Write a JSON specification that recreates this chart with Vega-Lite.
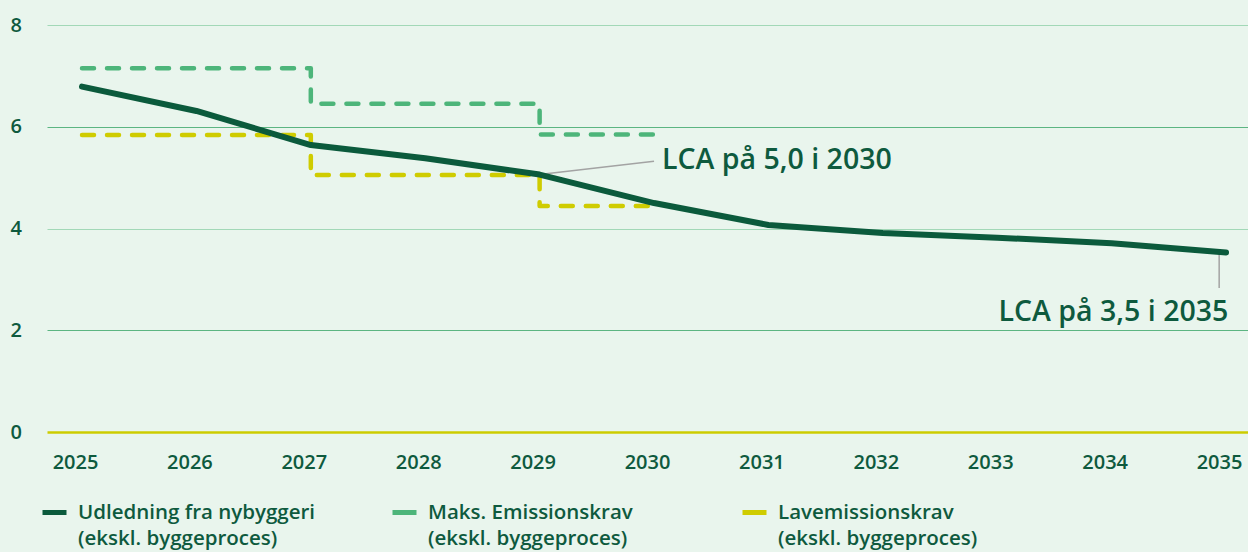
{
  "$schema": "https://vega.github.io/schema/vega-lite/v6.json",
  "autosize": {"type": "none"},
  "padding": {"left": 47, "top": 25, "right": 0, "bottom": 120},
  "width": 1201,
  "height": 407,
  "background": "#e9f5ed",
  "config": {"view": {"stroke": null}, "font": "Open Sans", "style": {"guide-label": {"lineHeight": 26}}},
  "datasets": {
    "udl": [
      {"year": 2025, "value": 6.79, "series": "Udledning fra nybyggeri|(ekskl. byggeproces)"},
      {"year": 2026, "value": 6.31, "series": "Udledning fra nybyggeri|(ekskl. byggeproces)"},
      {"year": 2027, "value": 5.64, "series": "Udledning fra nybyggeri|(ekskl. byggeproces)"},
      {"year": 2028, "value": 5.38, "series": "Udledning fra nybyggeri|(ekskl. byggeproces)"},
      {"year": 2029, "value": 5.06, "series": "Udledning fra nybyggeri|(ekskl. byggeproces)"},
      {"year": 2030, "value": 4.5, "series": "Udledning fra nybyggeri|(ekskl. byggeproces)"},
      {"year": 2031, "value": 4.07, "series": "Udledning fra nybyggeri|(ekskl. byggeproces)"},
      {"year": 2032, "value": 3.91, "series": "Udledning fra nybyggeri|(ekskl. byggeproces)"},
      {"year": 2033, "value": 3.82, "series": "Udledning fra nybyggeri|(ekskl. byggeproces)"},
      {"year": 2034, "value": 3.71, "series": "Udledning fra nybyggeri|(ekskl. byggeproces)"},
      {"year": 2035, "value": 3.53, "series": "Udledning fra nybyggeri|(ekskl. byggeproces)"}
    ],
    "maks": [
      {"year": 2025, "value": 7.15, "series": "Maks. Emissionskrav|(ekskl. byggeproces)"},
      {"year": 2027, "value": 6.45, "series": "Maks. Emissionskrav|(ekskl. byggeproces)"},
      {"year": 2029, "value": 5.85, "series": "Maks. Emissionskrav|(ekskl. byggeproces)"},
      {"year": 2030, "value": 5.85, "series": "Maks. Emissionskrav|(ekskl. byggeproces)"}
    ],
    "lav": [
      {"year": 2025, "value": 5.84, "series": "Lavemissionskrav|(ekskl. byggeproces)"},
      {"year": 2027, "value": 5.05, "series": "Lavemissionskrav|(ekskl. byggeproces)"},
      {"year": 2029, "value": 4.44, "series": "Lavemissionskrav|(ekskl. byggeproces)"},
      {"year": 2030, "value": 4.44, "series": "Lavemissionskrav|(ekskl. byggeproces)"}
    ],
    "leaders": [
      {"year": 2029, "value": 5.06, "year2": 2030.0, "value2": 5.32},
      {"year": 2034.94, "value": 3.5, "year2": 2034.94, "value2": 2.83}
    ],
    "noteLeft": [{"year": 2030.07, "value": 5.35, "label": "LCA på 5,0 i 2030"}],
    "noteRight": [{"year": 2035.02, "value": 2.36, "label": "LCA på 3,5 i 2035"}]
  },
  "encoding": {
    "x": {
      "field": "year", "type": "quantitative",
      "scale": {"domain": [2024.694, 2035.192], "nice": false, "zero": false},
      "axis": {
        "title": null, "orient": "bottom", "values": [2025, 2026, 2027, 2028, 2029, 2030, 2031, 2032, 2033, 2034, 2035],
        "format": "d", "grid": false, "domain": false, "ticks": false,
        "labelFontSize": 20, "labelFontWeight": 600, "labelColor": "#0e5a3e",
        "labelPadding": 20, "labelOffset": -7, "labelFlush": false, "labelOverlap": false
      }
    },
    "y": {
      "field": "value", "type": "quantitative",
      "scale": {"domain": [0, 8], "nice": false},
      "axis": {
        "title": null, "values": [0, 2, 4, 6, 8], "domain": false, "ticks": false,
        "labelAlign": "left", "labelPadding": 37, "labelFontSize": 20, "labelFontWeight": 600,
        "labelColor": "#0e5a3e",
        "gridColor": {"condition": [{"test": "datum.value === 0", "value": "#cccc00"}, {"test": "datum.value % 4 === 0", "value": "#a2d8b7"}], "value": "#5cb582"},
        "gridWidth": {"condition": {"test": "datum.value === 0", "value": 2.5}, "value": 1.2}
      }
    }
  },
  "layer": [
    {
      "data": {"name": "maks"},
      "mark": {"type": "line", "interpolate": "step-after", "strokeWidth": 4.5, "strokeDash": [12, 13], "strokeCap": "round", "strokeJoin": "round"},
      "encoding": {"color": {"field": "series", "type": "nominal"}}
    },
    {
      "data": {"name": "lav"},
      "mark": {"type": "line", "interpolate": "step-after", "strokeWidth": 4.5, "strokeDash": [12, 13], "strokeCap": "round", "strokeJoin": "round"},
      "encoding": {"color": {"field": "series", "type": "nominal"}}
    },
    {
      "data": {"name": "leaders"},
      "mark": {"type": "rule", "color": "#a3a3a3", "strokeWidth": 1.5},
      "encoding": {
        "x2": {"field": "year2"},
        "y2": {"field": "value2"}
      }
    },
    {
      "data": {"name": "udl"},
      "mark": {"type": "line", "interpolate": "linear", "strokeWidth": 6, "strokeCap": "round", "strokeJoin": "round"},
      "encoding": {
        "color": {
          "field": "series", "type": "nominal",
          "scale": {
            "domain": ["Udledning fra nybyggeri|(ekskl. byggeproces)", "Maks. Emissionskrav|(ekskl. byggeproces)", "Lavemissionskrav|(ekskl. byggeproces)"],
            "range": ["#0b5a3c", "#4db57a", "#cfcc00"]
          },
          "legend": {
            "title": null, "orient": "none", "legendX": -7, "legendY": 473,
            "direction": "horizontal", "columns": 3, "gridAlign": "all", "columnPadding": 66,
            "padding": 0, "symbolType": "stroke", "symbolSize": 576, "symbolStrokeWidth": 5,
            "labelFontSize": 20.5, "labelFontWeight": 600, "labelColor": "#0e5a3e", "labelLimit": 400,
            "labelOffset": 9, "labelExpr": "split(datum.label, '|')"
          }
        }
      }
    },
    {
      "data": {"name": "noteLeft"},
      "mark": {"type": "text", "align": "left", "baseline": "middle", "fontSize": 28.5, "fontWeight": 600, "color": "#0e5a3e"},
      "encoding": {"text": {"field": "label"}}
    },
    {
      "data": {"name": "noteRight"},
      "mark": {"type": "text", "align": "right", "baseline": "middle", "fontSize": 28.5, "fontWeight": 600, "color": "#0e5a3e"},
      "encoding": {"text": {"field": "label"}}
    }
  ]
}
